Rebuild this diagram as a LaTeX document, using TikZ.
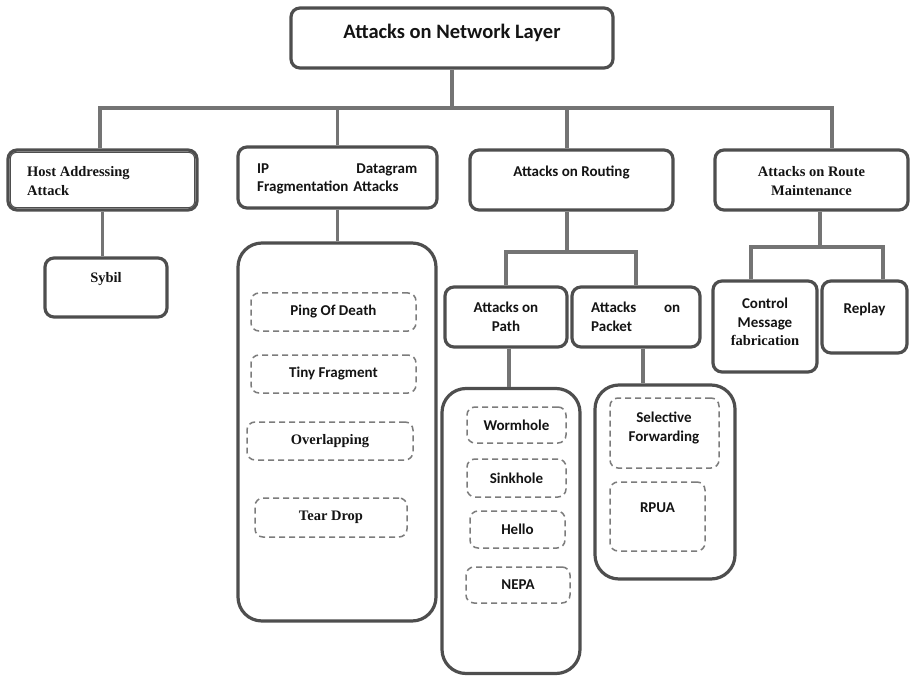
\documentclass[tikz,border=0pt]{standalone}
\usepackage{fontspec}
\setmainfont{Liberation Serif}
\newfontfamily\cbr{Carlito}
\newfontfamily\serb{Liberation Serif}
\definecolor{bord}{HTML}{4E4E4E}
\definecolor{connc}{HTML}{747474}
\definecolor{dashc}{HTML}{7C7C7C}
\definecolor{txt}{HTML}{141414}
\tikzset{
 box/.style={draw=bord, line width=3.2pt, rounded corners=9pt, fill=white, inner sep=0pt},
 cont/.style={box, rounded corners=24pt},
 dbox/.style={draw=dashc, line width=1.5pt, dash pattern=on 6pt off 4pt, rounded corners=8pt, inner sep=0pt},
 conn/.style={draw=connc, line width=3.4pt},
 st/.style={font=\cbr\bfseries\fontsize{15}{18.5}\selectfont, text=txt, inner sep=0pt, align=center},
 rt/.style={font=\serb\bfseries\fontsize{14.5}{18.5}\selectfont, text=txt, inner sep=0pt, align=center},
}
\begin{document}
\begin{tikzpicture}[x=1pt,y=-1pt]
\useasboundingbox (0,0) rectangle (910,676);
% boxes
\node[box, minimum width=322, minimum height=60] (top) at (452,38) {};
\node[box, minimum width=189, minimum height=60] (host) at (102.5,180) {};
\draw[draw=bord, line width=1.1pt, rounded corners=6pt] ([shift={(4,4)}]host.north west) rectangle ([shift={(-4,-4)}]host.south east);
\node[box, minimum width=199, minimum height=61] (ip) at (337.5,177.5) {};
\node[box, minimum width=203, minimum height=60] (rout) at (571.5,180) {};
\node[box, minimum width=193, minimum height=60] (mnt) at (811.5,180) {};
\node[box, minimum width=122, minimum height=59] (sybil) at (106,287.5) {};
\node[cont, minimum width=198, minimum height=378] (ipc) at (337,432) {};
\node[dbox, minimum width=165, minimum height=38] (pod) at (333.5,312) {};
\node[dbox, minimum width=165, minimum height=38] (tiny) at (333.5,374) {};
\node[dbox, minimum width=166, minimum height=38] (over) at (330,441) {};
\node[dbox, minimum width=152, minimum height=39] (tear) at (331,517.5) {};
\node[box, minimum width=122, minimum height=60] (path) at (506,317) {};
\node[box, minimum width=128, minimum height=60] (packet) at (636,317) {};
\node[cont, minimum width=138, minimum height=285] (pathc) at (511,531) {};
\node[dbox, minimum width=99, minimum height=36] (worm) at (516.5,425) {};
\node[dbox, minimum width=99, minimum height=38] (sink) at (516.5,478) {};
\node[dbox, minimum width=95, minimum height=37] (hello) at (517.5,529.5) {};
\node[dbox, minimum width=104, minimum height=36] (nepa) at (518,585) {};
\node[cont, minimum width=140, minimum height=194] (packc) at (665,482) {};
\node[dbox, minimum width=109, minimum height=70] (self) at (664.5,433) {};
\node[dbox, minimum width=95, minimum height=69] (rpua) at (657.5,516.5) {};
\node[box, minimum width=104, minimum height=91] (ctrl) at (765,326.5) {};
\node[box, minimum width=85, minimum height=72] (replay) at (864.5,317) {};
% texts
\node[st, font=\cbr\bfseries\fontsize{20.5}{24}\selectfont] (ttop) at (452,33) {Attacks on Network Layer};
\node[rt, anchor=west, align=left] (thost) at (27,181) {Host Addressing\\Attack};
\node[st, anchor=west, align=left, text width=160] (tip) at (257,179) {IP\hfill Datagram\\Fragmentation Attacks};
\node[st] (trout) at (571.5,172) {Attacks on Routing};
\node[rt] (tmnt) at (811.5,181) {Attacks on Route\\Maintenance};
\node[rt] (tsybil) at (106,279) {Sybil};
\node[st] (tpod) at (333.5,312) {Ping Of Death};
\node[st] (ttiny) at (333.5,374) {Tiny Fragment};
\node[rt] (tover) at (330,441) {Overlapping};
\node[rt] (ttear) at (331,517.5) {Tear Drop};
\node[st] (tpath) at (506,317) {Attacks on\\Path};
\node[st, anchor=west, align=left, text width=89] (tpacket) at (591,317) {Attacks\hfill on\\Packet};
\node[st] (tworm) at (516.5,425) {Wormhole};
\node[st] (tsink) at (516.5,478) {Sinkhole};
\node[st] (thello) at (517.5,529.5) {Hello};
\node[st] (tnepa) at (518,585) {NEPA};
\node[st] (tself) at (664,428) {Selective\\Forwarding};
\node[st] (trpua) at (657.5,508) {RPUA};
\node[st, align=center] (tctrl) at (765,322) {Control\\Message\\{\serb\bfseries\fontsize{14.5}{18}\selectfont fabrication}};
\node[st] (treplay) at (864.5,309) {Replay};
% connectors
\coordinate (busL) at (100,108);
\coordinate (busR) at (832,108);
\draw[conn] (top.south) -- (top.south |- busL);
\draw[conn] ([xshift=-2.5pt]host.north) -- ([xshift=-2.5pt]host.north |- busL) -- (busR) -- (busR |- mnt.north);
\draw[conn] (ip.north) -- (ip.north |- busL);
\draw[conn] ([xshift=-4.5pt]rout.north) -- ([xshift=-4.5pt]rout.north |- busL);
\draw[conn] (host.south) -- (host.south |- sybil.north);
\draw[conn] (ip.south) -- (ip.south |- ipc.north);
\coordinate (rbus) at (567,252);
\draw[conn] (rbus |- rout.south) -- (rbus);
\draw[conn] (path.north) -- (path.north |- rbus) -- (packet.north |- rbus) -- (packet.north);
\draw[conn] ([xshift=3pt]path.south) -- ([xshift=3pt]path.south |- pathc.north);
\draw[conn] ([xshift=7pt]packet.south) -- ([xshift=7pt]packet.south |- packc.north);
\coordinate (mbus) at (820,247);
\draw[conn] (mbus |- mnt.south) -- (mbus);
\draw[conn] ([xshift=-14pt]ctrl.north) -- ([xshift=-14pt]ctrl.north |- mbus) -- ([xshift=18.5pt]replay.north |- mbus) -- ([xshift=18.5pt]replay.north);
\end{tikzpicture}
\end{document}
